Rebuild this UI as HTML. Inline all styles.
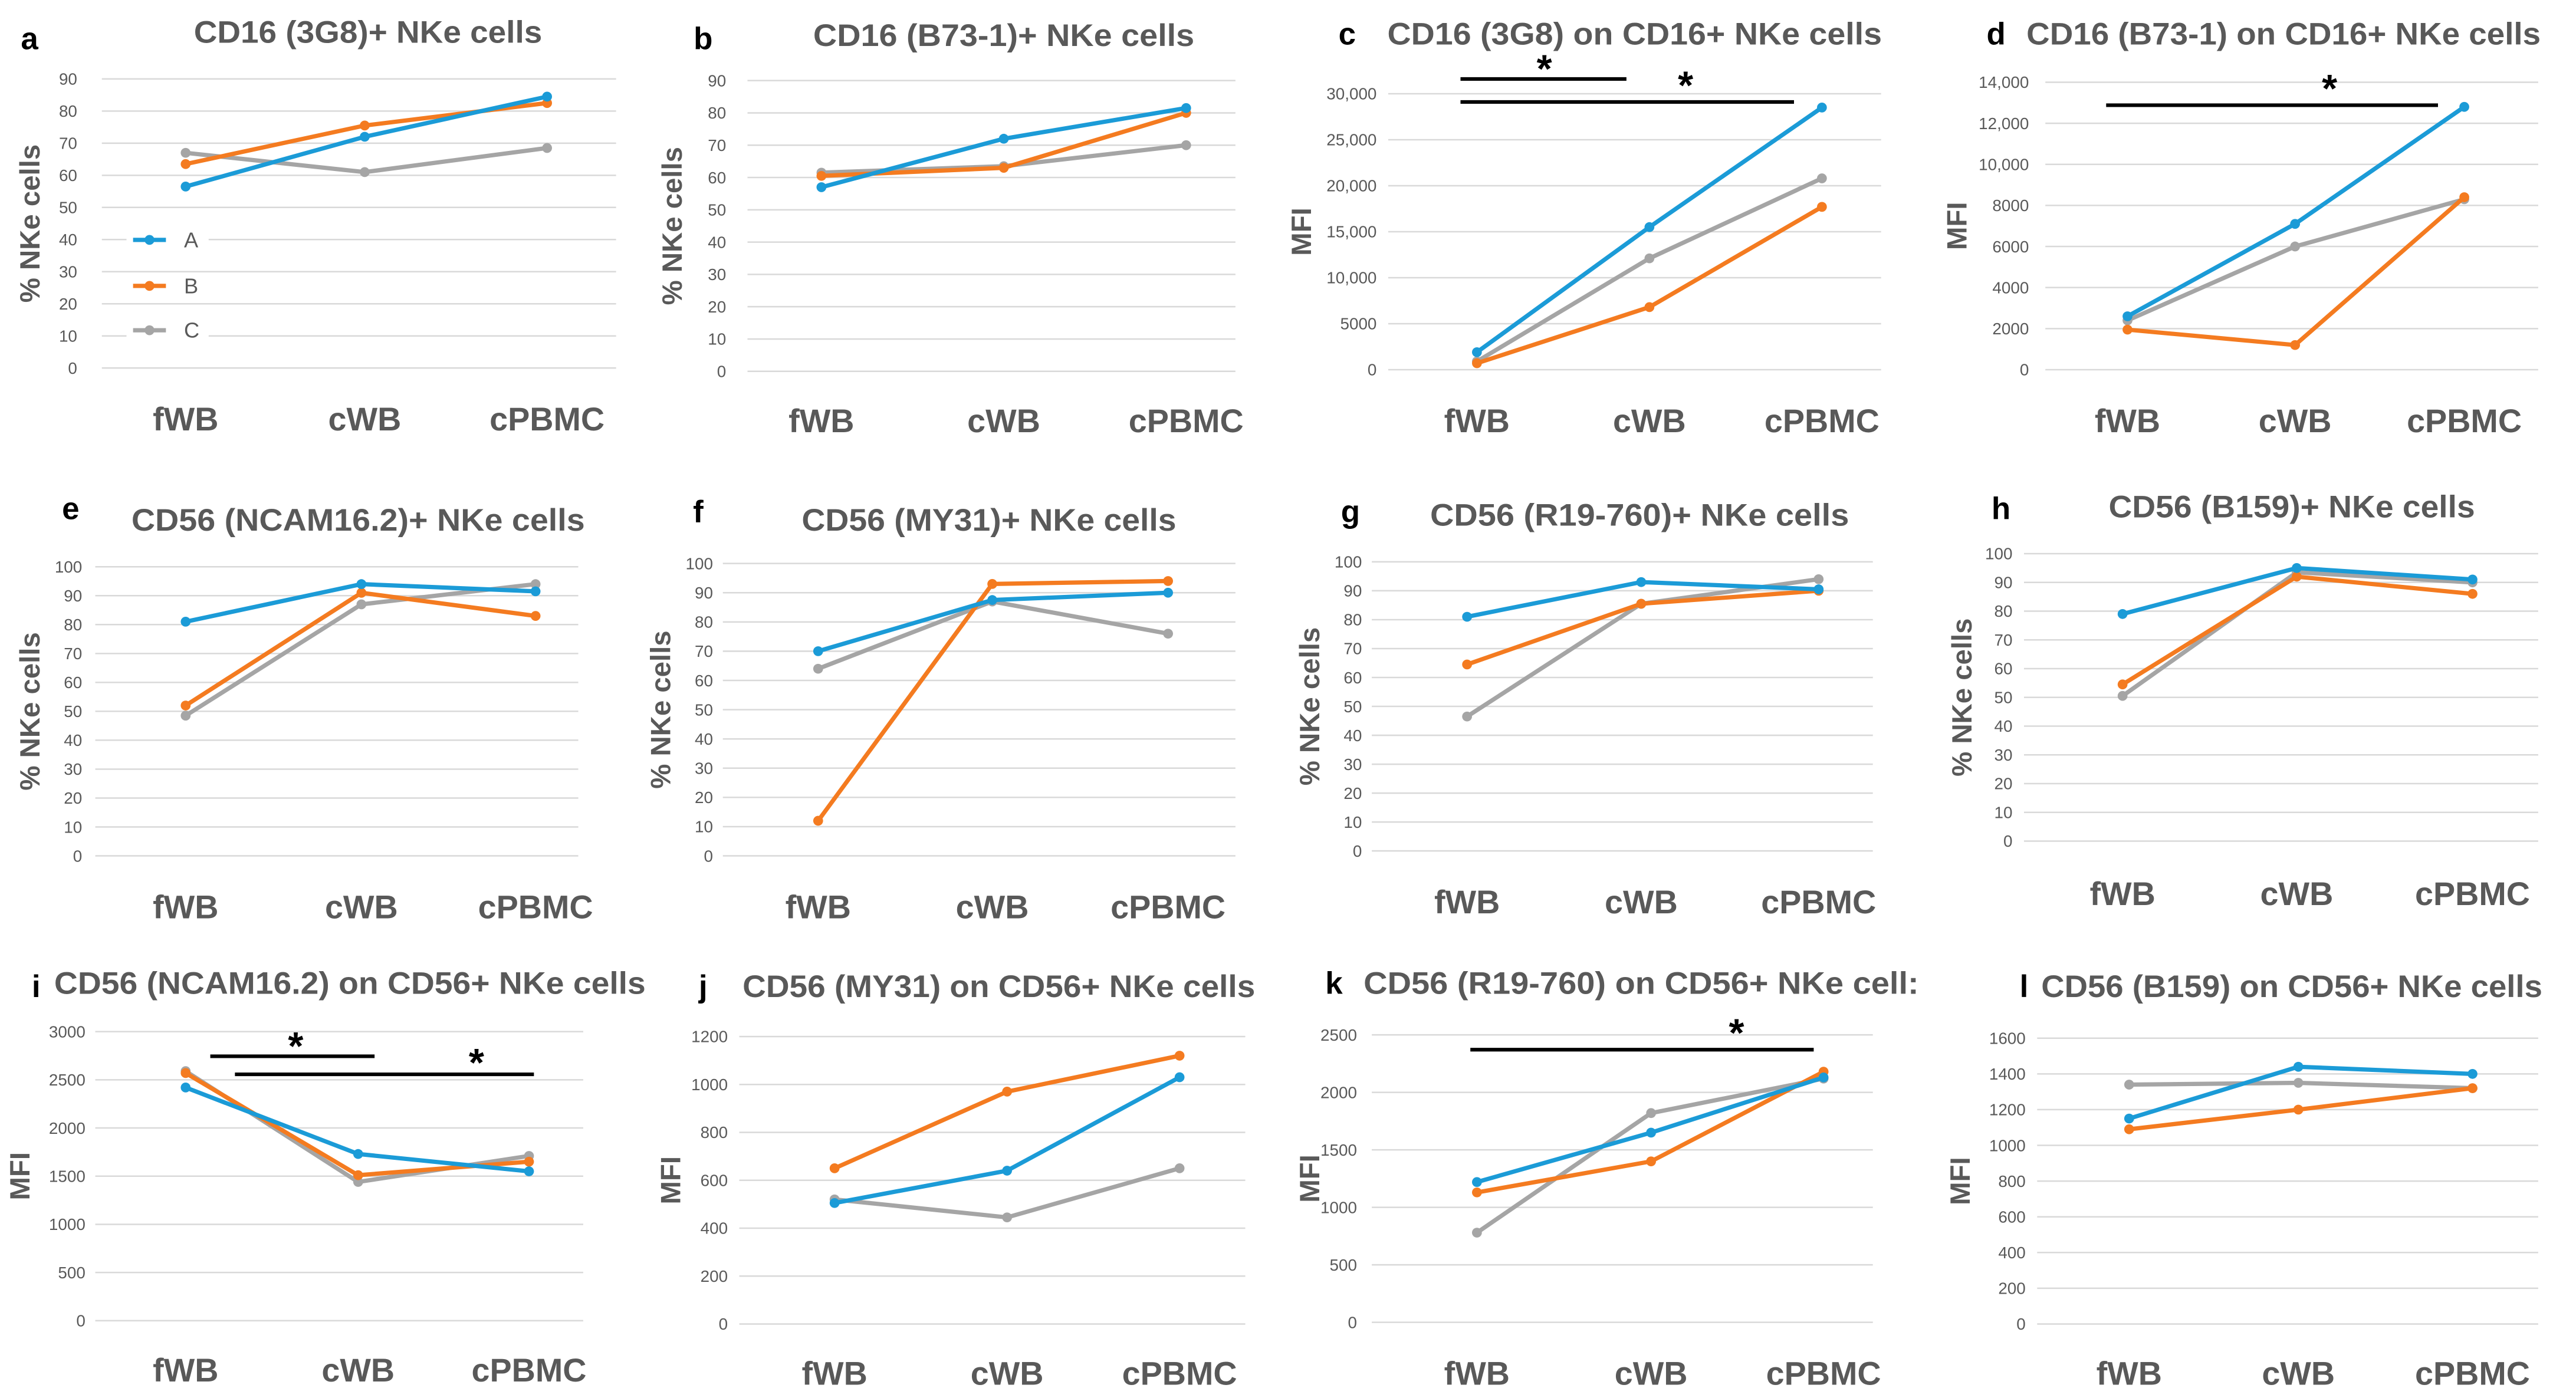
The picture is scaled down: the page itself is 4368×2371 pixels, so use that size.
<!DOCTYPE html>
<html><head><meta charset="utf-8"><style>
html,body{margin:0;padding:0;background:#fff;}
svg{display:block;}
text{font-family:"Liberation Sans Narrow","Liberation Sans",sans-serif;}
</style></head>
<body>
<svg id="fig" width="4368" height="2371" viewBox="0 0 1568 851" xmlns="http://www.w3.org/2000/svg"></svg>
<script>
const categories = ['fWB','cWB','cPBMC'];
const seriesNames = ['A','B','C'];
// panel data
const a_A=[56.5,72,84.5], a_B=[63.5,75.5,82.5], a_C=[67,61,68.5];
const b_A=[57,72,81.5], b_B=[60.5,63,80], b_C=[61.5,63.5,70];
const c_A=[1900,15500,28500], c_B=[700,6800,17700], c_C=[900,12100,20800];
const d_A=[2600,7100,12800], d_B=[1950,1200,8400], d_C=[2400,6000,8300];
const e_A=[81,94,91.5], e_B=[52,91,83], e_C=[48.5,87,94];
const f_A=[70,87.5,90], f_B=[12,93,94], f_C=[64,87,76];
const g_A=[81,93,90.5], g_B=[64.5,85.5,90], g_C=[46.5,85.5,94];
const h_A=[79,95,91], h_B=[54.5,92,86], h_C=[50.5,93.5,90];
const i_A=[2420,1730,1550], i_B=[2570,1510,1650], i_C=[2590,1440,1710];
const j_A=[505,640,1030], j_B=[650,970,1120], j_C=[520,445,650];
const k_A=[1220,1650,2130], k_B=[1130,1400,2180], k_C=[780,1820,2120];
const l_A=[1150,1440,1400], l_B=[1090,1200,1320], l_C=[1340,1350,1320];
// tick values
const ticks90=[0,10,20,30,40,50,60,70,80,90];
const ticks100=[0,10,20,30,40,50,60,70,80,90,100];
const ticksC=[0,5000,10000,15000,20000,25000,30000];
const ticksCLabels=['0','5000','10,000','15,000','20,000','25,000','30,000'];
const ticksD=[0,2000,4000,6000,8000,10000,12000,14000];
const ticksDLabels=['0','2000','4000','6000','8000','10,000','12,000','14,000'];
const ticksI=[0,500,1000,1500,2000,2500,3000];
const ticksJ=[0,200,400,600,800,1000,1200];
const ticksK=[0,500,1000,1500,2000,2500];
const ticksL=[0,200,400,600,800,1000,1200,1400,1600];

const colors=['#1b9bd7','#f47b20','#a5a5a5'];
const NS='http://www.w3.org/2000/svg';
const svg=document.getElementById('fig');
function el(tag,attrs,parent){const e=document.createElementNS(NS,tag);for(const k in attrs)e.setAttribute(k,attrs[k]);(parent||svg).appendChild(e);return e;}

const panels=[
 {id:'a',title:'CD16 (3G8)+ NKe cells',ytitle:'% NKe cells',series:[a_A,a_B,a_C],ticks:ticks90,max:90,lx:18,ly:30,tx:224,ty:26,tw:212,yTop:48,y0:224,gl:62,gr:375,tr:47,cx:[113,222,333],cy:262,yt:18,legend:true},
 {id:'b',title:'CD16 (B73-1)+ NKe cells',ytitle:'% NKe cells',series:[b_A,b_B,b_C],ticks:ticks90,max:90,lx:428,ly:30,tx:611,ty:28,tw:232,yTop:49,y0:226,gl:455,gr:752,tr:442,cx:[500,611,722],cy:263,yt:409},
 {id:'c',title:'CD16 (3G8) on CD16+ NKe cells',ytitle:'MFI',series:[c_A,c_B,c_C],ticks:ticksC,tl:ticksCLabels,max:30000,lx:820,ly:27,tx:995,ty:27,tw:301,yTop:57,y0:225,gl:845,gr:1145,tr:838,cx:[899,1004,1109],cy:263,yt:792,
  sig:[{x1:889,x2:990,y:48,sx:940,sy:50},{x1:889,x2:1092,y:62,sx:1026,sy:60}]},
 {id:'d',title:'CD16 (B73-1) on CD16+ NKe cells',ytitle:'MFI',series:[d_A,d_B,d_C],ticks:ticksD,tl:ticksDLabels,max:14000,lx:1215,ly:27,tx:1390,ty:27,tw:313,yTop:50,y0:225,gl:1245,gr:1545,tr:1235,cx:[1295,1397,1500],cy:263,yt:1191,
  sig:[{x1:1282,x2:1484,y:64,sx:1418,sy:62}]},
 {id:'e',title:'CD56 (NCAM16.2)+ NKe cells',ytitle:'% NKe cells',series:[e_A,e_B,e_C],ticks:ticks100,max:100,lx:43,ly:316,tx:218,ty:323,tw:276,yTop:345,y0:521,gl:58,gr:352,tr:50,cx:[113,220,326],cy:559,yt:18},
 {id:'f',title:'CD56 (MY31)+ NKe cells',ytitle:'% NKe cells',series:[f_A,f_B,f_C],ticks:ticks100,max:100,lx:425,ly:318,tx:602,ty:323,tw:228,yTop:343,y0:521,gl:440,gr:752,tr:434,cx:[498,604,711],cy:559,yt:402},
 {id:'g',title:'CD56 (R19-760)+ NKe cells',ytitle:'% NKe cells',series:[g_A,g_B,g_C],ticks:ticks100,max:100,lx:822,ly:318,tx:998,ty:320,tw:255,yTop:342,y0:518,gl:835,gr:1140,tr:829,cx:[893,999,1107],cy:556,yt:797},
 {id:'h',title:'CD56 (B159)+ NKe cells',ytitle:'% NKe cells',series:[h_A,h_B,h_C],ticks:ticks100,max:100,lx:1218,ly:316,tx:1395,ty:315,tw:223,yTop:337,y0:512,gl:1232,gr:1545,tr:1225,cx:[1292,1398,1505],cy:551,yt:1194},
 {id:'i',title:'CD56 (NCAM16.2) on CD56+ NKe cells',ytitle:'MFI',series:[i_A,i_B,i_C],ticks:ticksI,max:3000,lx:22,ly:607,tx:213,ty:605,tw:360,yTop:628,y0:804,gl:58,gr:355,tr:52,cx:[113,218,322],cy:841,yt:12,
  sig:[{x1:128,x2:228,y:643,sx:180,sy:645},{x1:143,x2:325,y:654,sx:290,sy:655}]},
 {id:'j',title:'CD56 (MY31) on CD56+ NKe cells',ytitle:'MFI',series:[j_A,j_B,j_C],ticks:ticksJ,max:1200,lx:428,ly:607,tx:608,ty:607,tw:312,yTop:631,y0:806,gl:450,gr:758,tr:443,cx:[508,613,718],cy:843,yt:408},
 {id:'k',title:'CD56 (R19-760) on CD56+ NKe cell:',ytitle:'MFI',series:[k_A,k_B,k_C],ticks:ticksK,max:2500,lx:812,ly:605,tx:999,ty:605,tw:338,yTop:630,y0:805,gl:835,gr:1140,tr:826,cx:[899,1005,1110],cy:843,yt:797,
  sig:[{x1:895,x2:1104,y:639,sx:1057,sy:637}]},
 {id:'l',title:'CD56 (B159) on CD56+ NKe cells',ytitle:'MFI',series:[l_A,l_B,l_C],ticks:ticksL,max:1600,lx:1232,ly:607,tx:1395,ty:607,tw:305,yTop:632,y0:806,gl:1240,gr:1545,tr:1233,cx:[1296,1399,1505],cy:843,yt:1193}
];

panels.forEach(p=>{
  const g=el('g',{});
  
  
  const yS=v=>p.y0-(v/p.max)*(p.y0-p.yTop);
  p.ticks.forEach((t,ti)=>{
    const ln=el('line',{x1:p.gl,x2:p.gr,y1:yS(t),y2:yS(t),stroke:'#d9d9d9','stroke-width':0.9},g);
    
    
    const tx=el('text',{x:p.tr,y:yS(t)+3.5,'text-anchor':'end','font-size':10,fill:'#595959'},g);
    tx.textContent=p.tl?p.tl[ti]:String(t);
    
    
  });
  const lt=el('text',{x:p.lx,y:p.ly,'font-size':19,'font-weight':'bold',fill:'#000','text-anchor':'middle'},g);
  lt.textContent=p.id;
  
  
  const tt=el('text',{x:p.tx,y:p.ty,'font-size':19,'font-weight':'bold',fill:'#595959','text-anchor':'middle',textLength:p.tw,lengthAdjust:'spacingAndGlyphs'},g);
  tt.textContent=p.title;
  
  
  const ym=(p.yTop+p.y0)/2;
  const yt=el('text',{x:0,y:0,'font-size':17,'font-weight':'bold',fill:'#595959','text-anchor':'middle',transform:'translate('+(p.yt+6)+','+ym+') rotate(-90)'},g);
  yt.textContent=p.ytitle;
  
  
  categories.forEach((c,ci)=>{
    const ct=el('text',{x:p.cx[ci],y:p.cy,'font-size':20,'font-weight':'bold',fill:'#595959','text-anchor':'middle'},g);
    ct.textContent=c;
    
    
  });
  if(p.legend){
    const lys=[146,174,201];
    seriesNames.forEach((s,si)=>{
      const lb=el('rect',{x:77,y:lys[si]-8,width:50,height:16,fill:'#fff'},g);
      
      
      const ll=el('line',{x1:81,x2:101,y1:lys[si],y2:lys[si],stroke:colors[si],'stroke-width':2.6},g);
      
      
      const lc=el('circle',{cx:91,cy:lys[si],r:3,fill:colors[si]},g);
      
      
      const lx=el('text',{x:112,y:lys[si]+4.5,'font-size':13,fill:'#595959','text-anchor':'start'},g);
      lx.textContent=s;
      
      
    });
  }
  [2,1,0].forEach(si=>{
    const vals=p.series[si];
    const pts=vals.map((v,vi)=>p.cx[vi]+','+yS(v)).join(' ');
    const pl=el('polyline',{points:pts,fill:'none',stroke:colors[si],'stroke-width':2.6,'stroke-linejoin':'round'},g);
    
    
    vals.forEach((v,vi)=>{
      const c=el('circle',{cx:p.cx[vi],cy:yS(v),r:3,fill:colors[si]},g);
      
      
    });
  });
  (p.sig||[]).forEach(s=>{
    const sl=el('line',{x1:s.x1,x2:s.x2,y1:s.y,y2:s.y,stroke:'#000','stroke-width':2.2},g);
    
    
    const st=el('text',{x:s.sx,y:s.sy,'font-size':24,'font-weight':'bold',fill:'#000','text-anchor':'middle'},g);
    st.textContent='*';
    
    
  });
});
</script>
</body></html>
